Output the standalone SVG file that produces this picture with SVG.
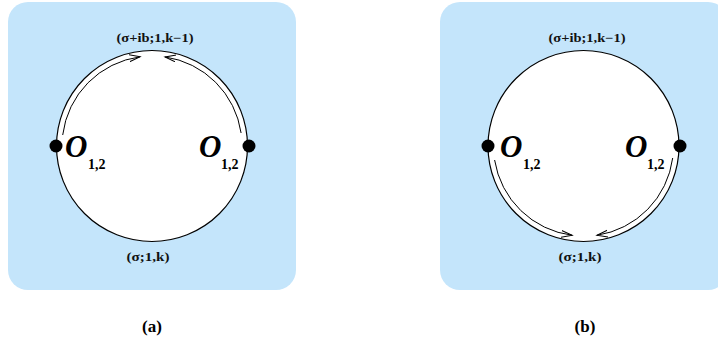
<svg xmlns="http://www.w3.org/2000/svg" width="718" height="340" viewBox="0 0 718 340">
<defs>
<style>
.bg{fill:#c4e5fb;stroke:none}
.ring{fill:#fff;stroke:#000;stroke-width:1.2}
.dot{fill:#000}
.lab{font-family:'Liberation Serif','Times New Roman',Times,serif;font-weight:700;font-size:12px;fill:#111}
.O{font-family:'Liberation Serif','Times New Roman',Times,serif;font-weight:700;font-style:italic;font-size:31px;fill:#000}
.sub{font-style:normal;font-size:14px}
.cap{font-family:'Liberation Serif','Times New Roman',Times,serif;font-weight:700;font-size:17px;fill:#000}
.arc{fill:none;stroke:#000;stroke-width:1}
</style>
<marker id="ah" markerUnits="userSpaceOnUse" markerWidth="14" markerHeight="10" refX="11" refY="4" orient="auto">
<path d="M0,0.5 L11,4 L0,7.5" fill="none" stroke="#000" stroke-width="1"/>
</marker>
</defs>
<g id="panel-a">
<rect class="bg" x="8" y="2" width="288" height="288" rx="20"/>
<circle class="ring" cx="152" cy="146" r="95.5"/>
<text class="lab" x="155" y="42" text-anchor="middle" textLength="77" lengthAdjust="spacingAndGlyphs">(σ+ib;1,k−1)</text>
<text class="lab" x="148" y="261" text-anchor="middle" textLength="43" lengthAdjust="spacingAndGlyphs">(σ;1,k)</text>
<text class="cap" x="152" y="332" text-anchor="middle">(a)</text>
</g>
<g id="a-left-node">
<circle class="dot" cx="56" cy="146" r="6.5"/>
<text class="O" x="65" y="157">O</text>
<text class="O sub" x="88" y="169">1,2</text>
</g>
<g id="a-right-node">
<circle class="dot" cx="249" cy="146" r="6.5"/>
<text class="O" x="199" y="157">O</text>
<text class="O sub" x="221" y="169">1,2</text>
</g>
<g id="panel-b">
<rect class="bg" x="440" y="2" width="288" height="288" rx="20"/>
<circle class="ring" cx="583.5" cy="146" r="95.5"/>
<text class="lab" x="587" y="42" text-anchor="middle" textLength="77" lengthAdjust="spacingAndGlyphs">(σ+ib;1,k−1)</text>
<text class="lab" x="580" y="261" text-anchor="middle" textLength="43" lengthAdjust="spacingAndGlyphs">(σ;1,k)</text>
<text class="cap" x="585" y="332" text-anchor="middle">(b)</text>
</g>
<g id="b-left-node">
<circle class="dot" cx="488" cy="146" r="6.5"/>
<text class="O" x="500" y="157">O</text>
<text class="O sub" x="523" y="169">1,2</text>
</g>
<g id="b-right-node">
<circle class="dot" cx="680" cy="146" r="6.5"/>
<text class="O" x="625" y="157">O</text>
<text class="O sub" x="647" y="169">1,2</text>
</g>
<g id="connectors">
<path class="arc" marker-end="url(#ah)" d="M62.7,135 A90,90 0 0 1 140.1,56.8"/>
<path class="arc" marker-end="url(#ah)" d="M241.1,133 A90,90 0 0 0 165,56.9"/>
<path class="arc" marker-end="url(#ah)" d="M494.6,160 A90,90 0 0 0 572.2,235.3"/>
<path class="arc" marker-end="url(#ah)" d="M672.7,158 A90,90 0 0 1 596.9,235.3"/>
</g>
</svg>
